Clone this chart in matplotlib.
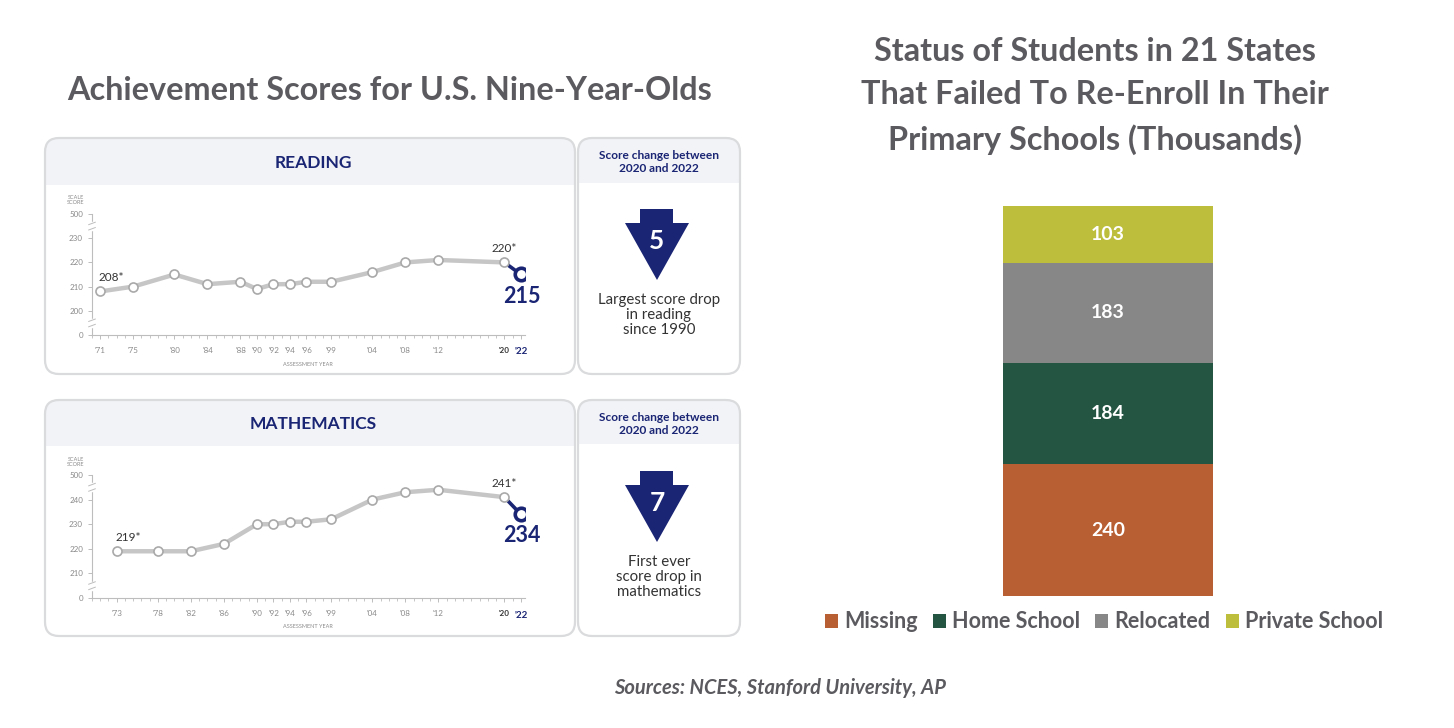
import numpy as np
import matplotlib.pyplot as plt
from matplotlib.patches import FancyBboxPatch, Rectangle, Polygon

plt.rcParams['font.family'] = ['Lato', 'DejaVu Sans']

# ------------------- Data -------------------
reading_years = [1971, 1975, 1980, 1984, 1988, 1990, 1992, 1994, 1996, 1999, 2004, 2008, 2012, 2020, 2022]
reading_scores = [208, 210, 215, 211, 212, 209, 211, 211, 212, 212, 216, 220, 221, 220, 215]
reading_ticks = [0, 200, 210, 220, 230, 500]

math_years = [1973, 1978, 1982, 1986, 1990, 1992, 1994, 1996, 1999, 2004, 2008, 2012, 2020, 2022]
math_scores = [219, 219, 219, 222, 230, 230, 231, 231, 232, 240, 243, 244, 241, 234]
math_ticks = [0, 210, 220, 230, 240, 500]

status_labels = ['Missing', 'Home School', 'Relocated', 'Private School']
status_values = [240, 184, 183, 103]
status_colors = ['#B85F33', '#245442', '#878787', '#BDBE3C']

NAVY = '#1a2574'
TITLE_GRAY = '#5a5a5f'
W, H = 1454, 728

fig = plt.figure(figsize=(W / 100, H / 100), dpi=100)

# background axes in pixel units for panels and text
bg = fig.add_axes([0, 0, 1, 1])
bg.set_xlim(0, W)
bg.set_ylim(H, 0)
bg.axis('off')


def px_axes(x0, y0, x1, y1):
    ax = fig.add_axes([x0 / W, 1 - y1 / H, (x1 - x0) / W, (y1 - y0) / H])
    ax.patch.set_visible(False)
    return ax


def panel(x0, y0, x1, y1, head_y):
    box = FancyBboxPatch((x0, y0), x1 - x0, y1 - y0, boxstyle='round,pad=0,rounding_size=14',
                         fc='white', ec='none')
    bg.add_patch(box)
    head = Rectangle((x0, y0), x1 - x0, head_y - y0, fc='#f2f3f6', ec='none')
    bg.add_patch(head)
    head.set_clip_path(box)
    bg.add_patch(FancyBboxPatch((x0, y0), x1 - x0, y1 - y0, boxstyle='round,pad=0,rounding_size=14',
                                fc='none', ec='#dadbdd', lw=1.6))


def score_chart(ax, years, scores, ticks):
    pos = list(ticks)
    pos[0] = ticks[1] - 10
    pos[-1] = ticks[-2] + 10
    ax.plot(years[-2:], scores[-2:], color=NAVY, lw=2.6, zorder=2)
    ax.plot(years[:-1], scores[:-1], color='#c6c6c6', lw=3.2, marker='o', ms=6.5,
            mfc='white', mec='#a9a9a9', mew=1.2, zorder=3)
    ax.plot(years[-1], scores[-1], 'o', ms=9, mfc='white', mec=NAVY, mew=2.6, zorder=4)
    ax.set_xlim(1970, 2022.5)
    ax.set_ylim(pos[0], pos[-1])
    ax.set_yticks(pos)
    ax.set_yticklabels([str(t) for t in ticks])
    ax.set_xticks(years)
    ax.set_xticklabels(["'" + str(y)[2:] for y in years])
    ax.set_xticks(np.arange(1970, 2023), minor=True)
    for s in ['top', 'right']:
        ax.spines[s].set_visible(False)
    for s in ['left', 'bottom']:
        ax.spines[s].set_color('#bdbdbd')
        ax.spines[s].set_linewidth(0.8)
    ax.tick_params(axis='both', labelsize=5.8, labelcolor='#8a8a8a', color='#bdbdbd', length=3, width=0.7)
    ax.tick_params(axis='x', which='minor', length=2, color='#bdbdbd', width=0.6)
    ax.tick_params(axis='x', pad=6)
    labs = ax.get_xticklabels()
    labs[-2].set_color('#333333')
    labs[-2].set_fontweight('bold')
    labs[-1].set_color(NAVY)
    labs[-1].set_fontweight('bold')
    labs[-1].set_fontsize(7)
    # axis break marks
    for yb in [pos[0] + 5, pos[-1] - 5]:
        ax.plot([1970, 1970], [yb - 1.2, yb + 1.2], color='white', lw=2.5, zorder=5, clip_on=False)
        ax.plot([1969.6, 1970.4], [yb - 1.6, yb - 0.6], color='#bdbdbd', lw=0.7, zorder=6, clip_on=False)
        ax.plot([1969.6, 1970.4], [yb + 0.6, yb + 1.6], color='#bdbdbd', lw=0.7, zorder=6, clip_on=False)
    ax.annotate(f'{scores[0]}*', (years[0], scores[0]), xytext=(-1, 6), textcoords='offset points',
                ha='left', va='bottom', fontsize=8.5, color='#333333')
    ax.annotate(f'{scores[-2]}*', (years[-2], scores[-2]), xytext=(0, 6), textcoords='offset points',
                ha='center', va='bottom', fontsize=8.5, color='#333333')
    ax.annotate(f'{scores[-1]}', (years[-1], scores[-1]), xytext=(1, -8), textcoords='offset points',
                ha='center', va='top', fontsize=15.5, fontweight='bold', color=NAVY)


def change_box(y_off, change, lines):
    pts = [(640, 209), (673, 209), (673, 223), (689, 223), (657, 280), (625, 223), (640, 223)]
    bg.add_patch(Polygon([(x, y + y_off) for x, y in pts], closed=True, fc=NAVY, ec='none'))
    bg.text(657, 241 + y_off, str(change), ha='center', va='center', fontsize=19,
            fontweight='bold', color='white')
    bg.text(659, 162 + y_off, 'Score change between\n2020 and 2022', ha='center', va='center',
            fontsize=8.6, fontweight='bold', color=NAVY, linespacing=1.25)
    bg.text(659, 315 + y_off, lines, ha='center', va='center', fontsize=10.8, color='#333333',
            linespacing=1.1)


# ------------------- Left side: NAEP panels -------------------
bg.text(390, 90, 'Achievement Scores for U.S. Nine-Year-Olds', ha='center', va='center',
        fontsize=23.3, fontweight='bold', color=TITLE_GRAY)

for (y0, y1, hy, name) in [(138, 374, 185, 'READING'), (400, 636, 446, 'MATHEMATICS')]:
    panel(45, y0, 575, y1, hy)
    panel(578, y0, 740, y1, hy - 2)
    bg.text(313, (y0 + hy) / 2 + 1, name, ha='center', va='center', fontsize=12.5,
            fontweight='bold', color=NAVY)
    bg.text(76, y0 + 62, 'SCALE\nSCORE', ha='center', va='center', fontsize=4, color='#8a8a8a',
            linespacing=1.0)
    bg.text(308, y1 - 10, 'ASSESSMENT YEAR', ha='center', va='center', fontsize=4, color='#8a8a8a')

ax_r = px_axes(92, 214, 525, 335)
score_chart(ax_r, reading_years, reading_scores, reading_ticks)
change_box(0, reading_scores[-2] - reading_scores[-1], 'Largest score drop\nin reading\nsince 1990')

ax_m = px_axes(92, 475, 525, 598)
score_chart(ax_m, math_years, math_scores, math_ticks)
change_box(262, math_scores[-2] - math_scores[-1], 'First ever\nscore drop in\nmathematics')

# ------------------- Right side: stacked bar -------------------
bg.text(1095, 96, 'Status of Students in 21 States\nThat Failed To Re-Enroll In Their\nPrimary Schools (Thousands)',
        ha='center', va='center', fontsize=23.3, fontweight='bold', color=TITLE_GRAY, linespacing=1.57)

ax_b = px_axes(950, 206, 1266, 596)
bottom = 0
for lab, val, col in zip(status_labels, status_values, status_colors):
    ax_b.bar(0, val, width=1.0, bottom=bottom, color=col, label=lab)
    ax_b.text(0, bottom + val / 2, str(val), ha='center', va='center', fontsize=14,
              fontweight='bold', color='white')
    bottom += val
ax_b.set_xlim(-0.75, 0.75)
ax_b.set_ylim(0, sum(status_values))
ax_b.axis('off')

leg = fig.legend(loc='center', bbox_to_anchor=(1104 / W, 1 - 622 / H), ncol=4, frameon=False,
                 handlelength=0.6, handleheight=0.6, handletextpad=0.3, columnspacing=0.7,
                 prop={'size': 15.5, 'weight': 'bold'})
for t in leg.get_texts():
    t.set_color(TITLE_GRAY)

bg.text(780, 688, 'Sources: NCES, Stanford University, AP', ha='center', va='center', fontsize=14.5,
        fontstyle='italic', fontweight='bold', color=TITLE_GRAY)

fig.savefig('out.png', dpi=100)
